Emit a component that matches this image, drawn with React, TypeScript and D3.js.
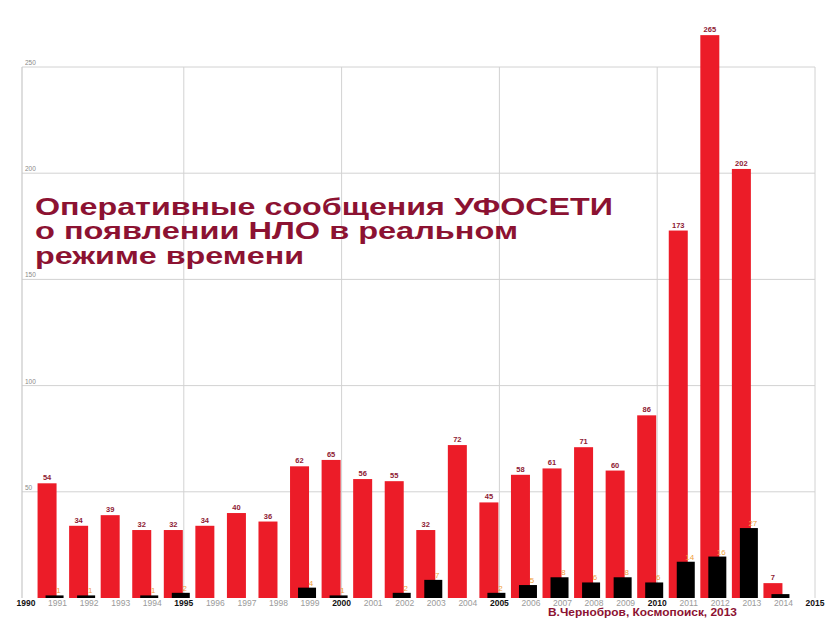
import React from "react";
import * as d3 from "d3";

const years = [1991, 1992, 1993, 1994, 1995, 1996, 1997, 1998, 1999, 2000, 2001, 2002, 2003, 2004, 2005, 2006, 2007, 2008, 2009, 2010, 2011, 2012, 2013, 2014];
const redValues = [54, 34, 39, 32, 32, 34, 40, 36, 62, 65, 56, 55, 32, 72, 45, 58, 61, 71, 60, 86, 173, 265, 202, 7];
const blackValues = [1, 1, 0, 1, 2, 0, 0, 0, 4, 1, 0, 2, 7, 0, 2, 5, 8, 6, 8, 6, 14, 16, 27, 1.5];
const blackUnlabeled = [2014];
const axisYears = d3.range(1990, 2016);
const yTicks = [50, 100, 150, 200, 250];
const gridYears = [1995, 2000, 2005, 2010, 2015];
const titleLines = ["Оперативные сообщения УФОСЕТИ", "о появлении НЛО в реальном", "режиме времени"];
const titleWidths = [578, 483, 269];
const credit = "В.Чернобров, Космопоиск, 2013";

const W = 836;
const H = 623;
const BASE = 598;
const TOP = 67;
const LEFT = 22;
const RIGHT = 815;

export default function App() {
  const x = d3.scaleLinear().domain([1990, 2015]).range([26, 815]);
  const y = d3.scaleLinear().domain([0, 250]).range([BASE, TOP]);
  const yBlack = d3.scaleLinear().domain([0, 205]).range([BASE, TOP]);
  const RED = "#ec1c28";
  const LABEL_RED = "#8e1a33";
  const TITLE = "#8c1232";
  const ORANGE = "#f0a040";
  const GRID = "#d2d2d2";
  const font = "'Liberation Sans', Arial, sans-serif";

  return (
    <svg width={W} height={H} style={{ position: "absolute", left: 0, top: 0, background: "#fff" }} fontFamily={font}>
      <rect x={0} y={0} width={W} height={H} fill="#fff" />
      {/* horizontal grid */}
      {yTicks.map((t) => (
        <g key={"g" + t}>
          <line x1={LEFT} x2={RIGHT} y1={y(t)} y2={y(t)} stroke={GRID} strokeWidth={1} />
          <text x={25} y={y(t) - 2} fontSize={6.5} fill="#8a8a8a">{t}</text>
        </g>
      ))}
      {/* vertical grid */}
      {gridYears.map((g) => (
        <line key={"v" + g} x1={x(g)} x2={x(g)} y1={TOP} y2={BASE} stroke={GRID} strokeWidth={1} />
      ))}
      <line x1={LEFT} x2={LEFT} y1={TOP} y2={BASE} stroke="#c8c8c8" strokeWidth={1.2} />

      {/* title */}
      {titleLines.map((l, i) => (
        <text key={"t" + i} x={35} y={215 + i * 24.5} fontSize={21} fontWeight="bold" fill={TITLE}
          textLength={titleWidths[i]} lengthAdjust="spacingAndGlyphs"
          transform={`translate(0, ${215 + i * 24.5}) scale(1, 1.12) translate(0, ${-(215 + i * 24.5)})`}>{l}</text>
      ))}

      {/* red bars */}
      {years.map((yr, i) => (
        <g key={"r" + yr}>
          <rect x={x(yr) - 20} width={19} y={y(redValues[i])} height={BASE - y(redValues[i])} fill={RED} />
          <text x={x(yr) - 10.5} y={y(redValues[i]) - 3} fontSize={7.5} fontWeight="bold" fill={LABEL_RED} textAnchor="middle">{redValues[i]}</text>
        </g>
      ))}
      {/* black bars */}
      {years.map((yr, i) =>
        blackValues[i] > 0 ? (
          <g key={"b" + yr}>
            <rect x={x(yr) - 12} width={18} y={yBlack(blackValues[i])} height={BASE - yBlack(blackValues[i])} fill="#000" />
            {blackUnlabeled.includes(yr) ? null : (
              <text x={x(yr) + 1} y={yBlack(blackValues[i]) - 2} fontSize={8} fill={ORANGE} textAnchor="middle">{blackValues[i]}</text>
            )}
          </g>
        ) : null
      )}

      {/* year labels */}
      {axisYears.map((yr) => {
        const major = yr % 5 === 0;
        return (
          <text key={"y" + yr} x={x(yr)} y={606} fontSize={8.5} textAnchor="middle"
            fontWeight={major ? "bold" : "normal"} fill={major ? "#111" : "#9a9a9a"}>{yr}</text>
        );
      })}

      <text x={548} y={616} fontSize={10} fontWeight="bold" fill={TITLE} textLength={189} lengthAdjust="spacingAndGlyphs">{credit}</text>
    </svg>
  );
}
